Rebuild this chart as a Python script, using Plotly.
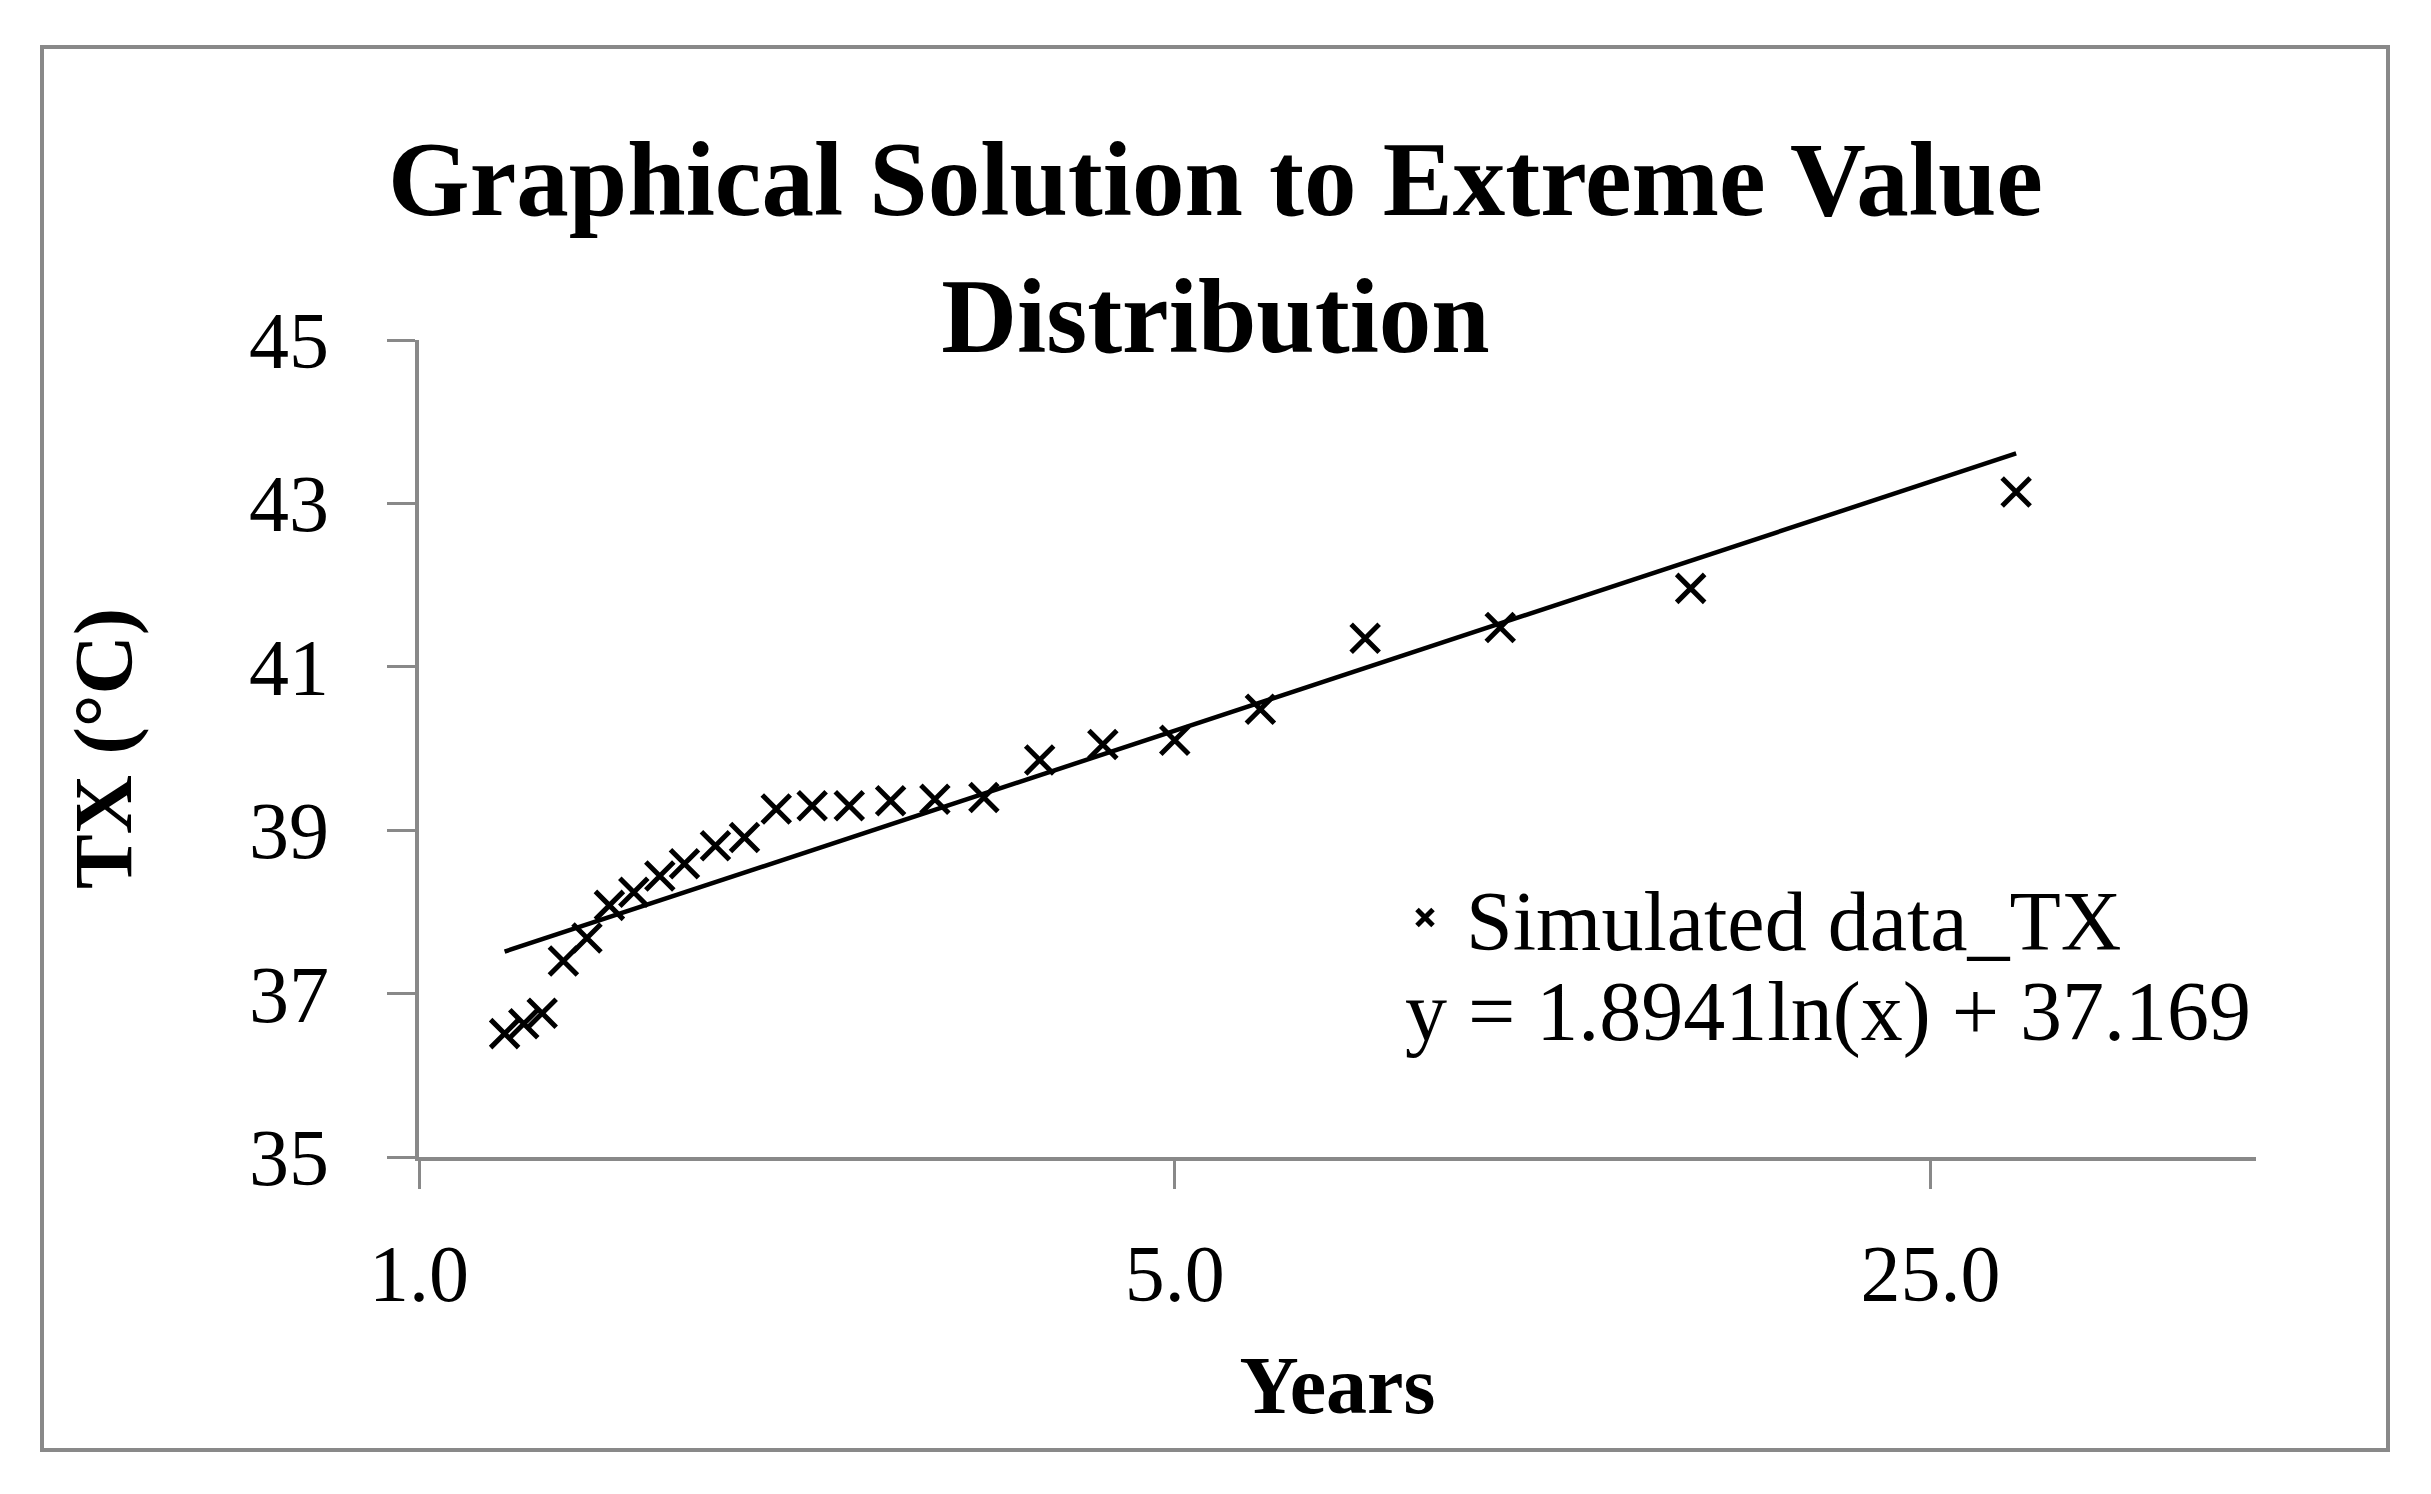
import plotly.graph_objects as go
import numpy as np

# ---- data ----
years = [30.0, 15.0, 10.0, 7.5, 6.0, 5.0, 4.29, 3.75, 3.33, 3.0, 2.73, 2.5, 2.31,
         2.14, 2.0, 1.88, 1.76, 1.67, 1.58, 1.5, 1.43, 1.36, 1.3, 1.25, 1.2]
tx = [43.14, 41.96, 41.48, 41.35, 40.48, 40.10, 40.05, 39.86, 39.40, 39.38, 39.36,
      39.30, 39.30, 39.26, 38.91, 38.81, 38.59, 38.44, 38.24, 38.08, 37.68, 37.40,
      36.76, 36.63, 36.51]
trend_a = 1.8941
trend_b = 37.169
x_tickvals = [1, 5, 25]
x_ticktext = ["1.0", "5.0", "25.0"]
y_tickvals = [35, 37, 39, 41, 43, 45]

# page has an 8px body margin; figure sized to fit the window
OFF = 8
W, H = 2431 - 2 * OFF, 1494 - 2 * OFF
# plot area in absolute page pixels
PL, PR, PT, PB = 419, 2256, 340, 1157
ml, mt = PL - OFF, PT - OFF
mr, mb = W - (PR - OFF), H - (PB - OFF)
FONT = "Liberation Serif"
GRAY = "#898989"

xt = np.linspace(min(years), max(years), 50)
yt = trend_a * np.log(xt) + trend_b

fig = go.Figure()
fig.add_trace(go.Scatter(
    x=xt, y=yt, mode="lines", line=dict(color="black", width=4.5),
    showlegend=False, hoverinfo="skip"))
fig.add_trace(go.Scatter(
    x=years, y=tx, mode="markers", name="Simulated data_TX",
    marker=dict(symbol="x-thin", size=28, line=dict(color="black", width=5), color="black")))

def px2paper_x(p):
    return (p - PL) / (PR - PL)
def px2paper_y(p):
    return (PB - p) / (PB - PT)

fig.update_layout(
    width=W, height=H,
    margin=dict(l=ml, r=mr, t=mt, b=mb, autoexpand=False),
    paper_bgcolor="white", plot_bgcolor="white",
    font=dict(family=FONT, color="black", size=80),
    title=dict(text="<b>Graphical Solution to Extreme Value<br>Distribution</b>",
               x=0.5, xanchor="center", y=1 - 207 / H, yanchor="middle",
               font=dict(family=FONT, size=105, color="black")),
    xaxis=dict(type="log", range=[0, np.log10(50)],
               tickvals=x_tickvals, ticktext=x_ticktext,
               showgrid=False, zeroline=False,
               showline=True, linecolor=GRAY, linewidth=4,
               ticks="outside", ticklen=28, tickwidth=3, tickcolor=GRAY,
               tickfont=dict(family=FONT, size=80, color="black"),
               ticklabelstandoff=16,
               title=dict(text="<b>Years</b>", standoff=40,
                          font=dict(family=FONT, size=82, color="black"))),
    yaxis=dict(range=[35, 45], tickvals=y_tickvals,
               showgrid=False, zeroline=False,
               showline=True, linecolor=GRAY, linewidth=4,
               ticks="outside", ticklen=28, tickwidth=3, tickcolor=GRAY,
               tickfont=dict(family=FONT, size=80, color="black"),
               ticklabelstandoff=42,
               title=dict(text="<b>TX (°C)</b>", standoff=91,
                          font=dict(family=FONT, size=82, color="black"))),
    legend=dict(x=px2paper_x(1384), y=px2paper_y(918), xanchor="left", yanchor="middle",
                bgcolor="rgba(0,0,0,0)", borderwidth=0, itemwidth=72,
                font=dict(family=FONT, size=84, color="black")),
    annotations=[dict(text="y = 1.8941ln(x) + 37.169", xref="paper", yref="paper",
                      x=px2paper_x(1403), y=px2paper_y(1012), xanchor="left", yanchor="middle",
                      showarrow=False, font=dict(family=FONT, size=84, color="black"))],
    shapes=[dict(type="rect", xref="paper", yref="paper",
                 x0=px2paper_x(42), x1=px2paper_x(2388),
                 y0=px2paper_y(1450), y1=px2paper_y(47),
                 line=dict(color=GRAY, width=4), fillcolor="rgba(0,0,0,0)", layer="below")],
)

fig.write_html("out.html")
